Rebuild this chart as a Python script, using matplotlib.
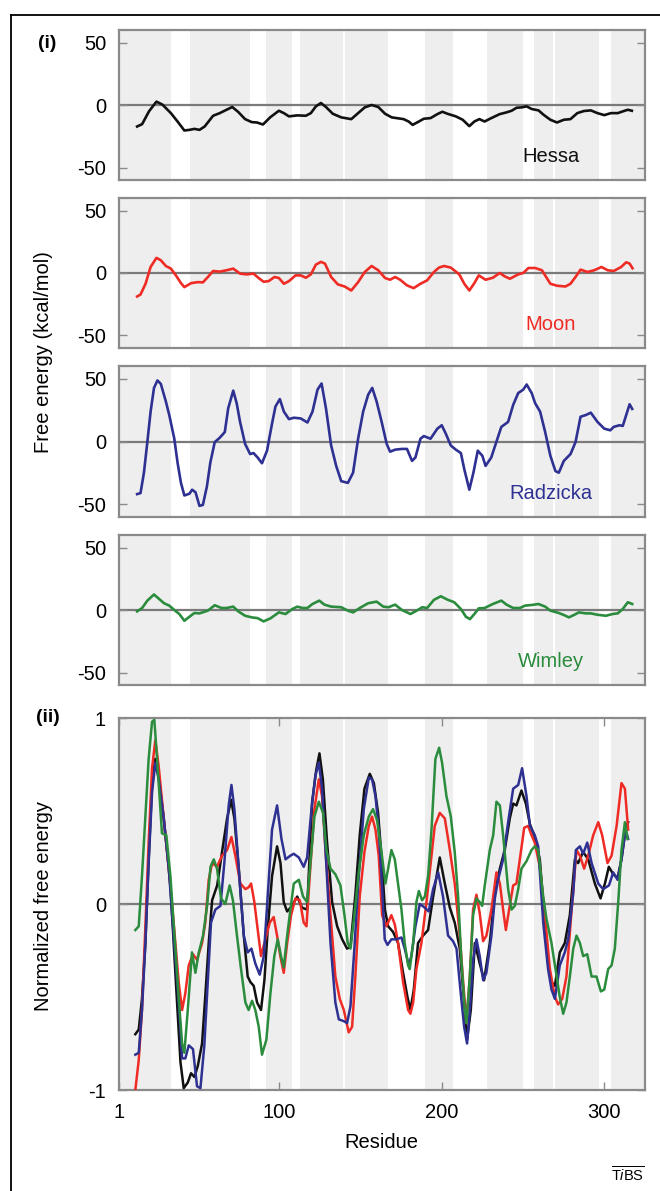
import numpy as np
import matplotlib
matplotlib.use("Agg")
import matplotlib.pyplot as plt
from matplotlib.lines import Line2D

plt.rcParams['font.family'] = ['Liberation Sans', 'DejaVu Sans']
plt.rcParams['axes.unicode_minus'] = False
plt.rcParams['mathtext.fontset'] = 'custom'
plt.rcParams['mathtext.rm'] = 'Liberation Sans'
plt.rcParams['mathtext.it'] = 'Liberation Sans:italic'

# shaded (membrane) segments, residue ranges
bands = [(1, 33), (45, 82), (92, 108), (113, 139.5), (140.5, 167), (190, 207),
         (228, 250), (257, 268.5), (270, 297), (304, 326)]

# ---- panel (i): free energy, kcal/mol ----
hessa_x = [12.4, 15.5, 19.7, 24.3, 28, 33.2, 37.3, 41.5, 44.6, 47.7, 50.8, 54, 59.2, 63.3, 67.5, 71,
           74.7, 78.9, 83, 86.2, 89.9, 94.5, 99.7, 102.8, 105.9, 111.1, 116.3, 119.4, 122.5, 125.6,
           128.7, 132.9, 138.1, 144.3, 148.5, 152.6, 156.8, 160.9, 165.1, 169.2, 176.5, 179.6, 182.1,
           184.8, 189, 193.1, 197.3, 200.4, 203.5, 208.7, 212.9, 217, 220.1, 223.2, 226.4, 230.5,
           235.7, 239.9, 243, 246.1, 249.2, 252.3, 255.4, 259.6, 262.7, 266.9, 271, 275.2, 279.3,
           283.5, 287.6, 291.8, 295.9, 300.1, 304.2, 308.4, 311.5, 314.6, 317.1]
hessa_y = [-17.2, -15.3, -5.1, 2.7, 0.3, -6.5, -13.2, -20.4, -19.9, -19.1, -19.9, -17.2, -8.6, -6.5,
           -3.8, -1.6, -5.6, -11.3, -13.7, -14, -15.6, -9.7, -4.6, -6.5, -9.1, -8.3, -8.6, -6.5, -1.1,
           1.6, -1.6, -7, -9.9, -11.3, -6.5, -1.9, 0, -1.6, -7, -9.9, -11.3, -13.2, -15.9, -14, -11,
           -10.5, -7.3, -5.4, -7, -9.1, -11.8, -16.9, -13.2, -11.3, -13.2, -10.5, -7.3, -5.9, -4.6,
           -2.2, -1.9, -1.1, -3.2, -4.3, -7.8, -11.8, -14, -11.8, -11.3, -6.5, -4.8, -4.3, -6.5, -8.1,
           -6.5, -6.5, -5.1, -3.8, -4.6]

moon_x = [12.4, 14.5, 17.6, 20.7, 24.3, 27, 30.1, 33.2, 36.3, 39.4, 41.5, 45.7, 49.8, 52.9, 56, 59.2,
          63.3, 67.5, 71.6, 75.8, 79.9, 84.1, 87.2, 90.3, 93.4, 97, 99.7, 102.8, 105.9, 110, 113.2,
          116.3, 119.4, 122.5, 125.6, 128.1, 131.9, 136, 140.2, 144.3, 148.5, 152.6, 156.8, 160.9,
          165.1, 168.2, 171.3, 174.4, 178.6, 182.7, 186.9, 191, 195.2, 198.3, 201.4, 205.6, 210.8,
          213.9, 217, 220.1, 222.8, 227, 231.5, 235.7, 238.8, 242, 247.1, 250.2, 253.4, 257.5, 261.7,
          266.9, 271, 276.2, 279.3, 282.4, 285.5, 289.7, 293.9, 298.4, 302.2, 305.9, 310.5, 313.6,
          315.7, 317.5]
moon_y = [-18.8, -17.2, -8.6, 4.8, 12.1, 10.2, 5.6, 3.5, -1.9, -8.1, -11.3, -8.1, -7.3, -7.5, -3.2,
          1.6, 1.1, 2.2, 3.5, -0.5, -1.1, -0.5, -4, -7, -6.5, -3.2, -4, -8.6, -6.5, -1.9, -1.9, -3.8,
          -1.1, 6.7, 8.9, 7.5, -3.2, -9.1, -10.8, -14, -7.3, 0.8, 5.6, 2.2, -4, -5.4, -3.2, -5.4,
          -9.9, -12.1, -8.6, -5.9, 0.8, 4.3, 5.6, 4.3, -1.1, -8.6, -14, -8.1, -1.9, -5.4, -3.8, 0,
          -2.7, -4.6, -1.1, 0, 4, 4, 2.2, -8.6, -10.2, -10.8, -8.6, -3.2, 2.7, 0.8, 2.2, 4.8, 2.2,
          1.6, 4.8, 8.6, 7.5, 3.8]

radz_x = [12.4, 14.5, 16.6, 18.7, 20.7, 22.8, 24.9, 27, 30.1, 32.2, 35.3, 37.3, 39.4, 41.5, 44.6,
          46.3, 48.4, 50.8, 52.9, 55.4, 57.5, 60.2, 63.3, 66.4, 68.5, 71.6, 73.7, 75.8, 78.9, 82,
          84.1, 86.6, 89.3, 92.4, 95.5, 97.6, 100.3, 102.8, 105.9, 109, 113.2, 117.3, 120.4, 123.5,
          126, 128.7, 131.9, 135, 138.1, 142.2, 145.4, 148.5, 151.6, 154.7, 157.2, 159.9, 163,
          166.1, 168.2, 171.3, 175.5, 178.6, 181.7, 183.8, 186.9, 189, 193.1, 197.3, 200, 202.5,
          205.6, 208.7, 211.8, 213.9, 217, 219.5, 222.2, 225, 227, 230.5, 233.6, 236.7, 240.9, 244,
          247.1, 250.2, 252.3, 255.4, 257.5, 260.6, 263.7, 266.9, 270, 272.1, 275.2, 279.3, 282.4,
          285.5, 288.7, 291.8, 295.9, 300.1, 303.8, 305.9, 309.4, 311.5, 313.6, 315.7, 317.3]
radz_y = [-41.8, -41, -24.8, -0.5, 23.7, 42.6, 48.5, 45.8, 31.8, 21, 2.2, -16.7, -32.9, -42.9, -41.5,
          -38.3, -40.4, -51.2, -50.4, -35.6, -16.7, -0.5, 3, 7.5, 26.4, 40.4, 30.5, 15.6, -1.9, -10,
          -9.2, -12.7, -17.3, -7.3, 14.3, 27.8, 33.7, 23.7, 17.8, 18.9, 18.3, 15.1, 23.7, 41.2, 46.1,
          26.4, -3.2, -19.4, -31.5, -32.9, -24.8, 2.2, 23.7, 37.2, 42.6, 31.8, 15.6, -1.9, -8.1,
          -6.5, -5.9, -5.9, -15.4, -12.7, 2.2, 4.3, 2.2, 10.2, 12.9, 6.2, -3.2, -6.5, -9.2, -22.1,
          -38.3, -24.8, -7.3, -11.3, -19.4, -12.7, -0.5, 11.6, 15.6, 29.1, 38.5, 41.2, 45.3, 38.5,
          30.5, 23.7, 7.5, -11.3, -23.5, -24.8, -15.4, -10, -0.5, 19.7, 21, 22.9, 15.6, 10.2, 8.9,
          11.6, 12.9, 12.4, 21, 29.6, 25.9]

wim_x = [12.4, 15.5, 18.7, 22.8, 25.9, 29, 32.2, 35.3, 38.4, 41.5, 44.6, 47.7, 50.8, 56, 60.2, 64.3,
         67.5, 71.6, 74.7, 78.9, 83, 86.6, 90.3, 94.5, 99.7, 103.8, 108, 111.1, 114.2, 117.3, 120.4,
         124.6, 127.7, 131.9, 138.1, 142.2, 145.4, 149.5, 154.7, 159.9, 164, 167.2, 171.3, 175.5,
         180.7, 183.8, 188, 191, 195.2, 199.4, 203.5, 207.7, 211.8, 214.9, 217.4, 220.1, 222.8,
         226.4, 231.5, 236.7, 239.9, 244, 248.2, 251.3, 255.4, 259.6, 263.7, 266.9, 272.1, 275.2,
         278.3, 281.4, 284.5, 288.7, 291.8, 295.9, 301.1, 305.3, 308.4, 311.5, 314.6, 317.3]
wim_y = [-1.1, 1.6, 7.5, 12.4, 8.9, 5.4, 3.5, 0, -3.2, -8.6, -5.4, -2.4, -2.7, -0.5, 3.8, 1.6, 1.6,
         2.7, -1.1, -4.6, -5.9, -6.5, -9.1, -6.7, -1.9, -3.2, 0.8, 2.7, 1.6, 1.6, 4.8, 7.5, 4.3, 2.7,
         2.2, -0.5, -1.9, 1.6, 5.4, 6.7, 2.7, 2.2, 4.3, 0, -3.2, -1.1, 2.2, 1.6, 8.1, 11, 8.3, 6.2,
         0.8, -5.4, -7.3, -3.2, 1.3, 1.6, 4.8, 7.5, 4.3, 1.6, 1.6, 3.5, 4, 4.8, 2.7, -0.5, -2.4, -4,
         -5.9, -4, -1.9, -2.7, -2.7, -3.8, -4.6, -3.2, -2.7, 0.8, 6.2, 4.8]

# ---- panel (ii): normalized free energy ----
n_hessa_x = [11.3, 13.4, 15.4, 17.5, 19.5, 21.6, 23.6, 25.7, 28.8, 30.8, 32.9, 34.9, 37, 39.1, 41.1,
             43.6, 45.6, 47.7, 49.8, 52.4, 54.5, 56.5, 58.6, 61.7, 64.7, 67.8, 70.3, 72.3, 75, 78.1,
             80.5, 82.2, 84.2, 86.3, 88.7, 90.8, 92.8, 95.5, 98.6, 100.7, 102.7, 104.8, 107.8, 111,
             114, 117.1, 120.2, 122.7, 124.7, 126.8, 129.4, 132.5, 135.6, 138.7, 141.7, 143.8, 146.9,
             149.5, 152.4, 155.7, 158.2, 160.8, 163.2, 165, 167, 170, 173.1, 176.2, 178.9, 180.7,
             182.8, 185.4, 188.5, 191.6, 194.7, 198.8, 201.9, 205, 208, 211.1, 213.8, 215.6, 217.9,
             220.4, 223.4, 226.1, 229.6, 232.7, 235.8, 238.8, 241.9, 244, 246, 249.1, 251.8, 254.3,
             257.3, 260.4, 263.1, 265.5, 267.6, 269.7, 272.7, 275.8, 278.9, 282, 284, 287.1, 290.2,
             294.3, 297.8, 300.5, 302.9, 305.6, 308.3, 310.7, 313.2, 314.8]
n_hessa_y = [-0.70, -0.675, -0.51, -0.21, 0.24, 0.64, 0.78, 0.69, 0.46, 0.29, 0.10, -0.21, -0.53,
             -0.85, -0.99, -0.96, -0.91, -0.93, -0.87, -0.75, -0.48, -0.21, 0.02, 0.10, 0.28, 0.46,
             0.56, 0.46, 0.19, -0.17, -0.39, -0.42, -0.44, -0.53, -0.57, -0.41, -0.14, 0.15, 0.31,
             0.22, 0.01, -0.04, -0.01, 0.04, -0.02, -0.03, 0.55, 0.72, 0.81, 0.67, 0.33, 0.01, -0.12,
             -0.19, -0.24, -0.23, 0.06, 0.37, 0.62, 0.70, 0.65, 0.49, 0.22, -0.03, -0.12, -0.15,
             -0.21, -0.37, -0.50, -0.57, -0.46, -0.21, -0.17, -0.14, 0.04, 0.25, 0.11, -0.02, -0.10,
             -0.24, -0.53, -0.73, -0.57, -0.21, -0.32, -0.41, -0.21, 0.06, 0.19, 0.29, 0.46, 0.54,
             0.53, 0.61, 0.54, 0.43, 0.36, 0.24, -0.06, -0.32, -0.42, -0.44, -0.26, -0.21, -0.06,
             0.24, 0.22, 0.28, 0.24, 0.11, 0.03, 0.11, 0.20, 0.16, 0.14, 0.24, 0.40, 0.44]

n_moon_x = [11.3, 13.4, 15.4, 17.5, 19.5, 21.6, 23.6, 25.7, 28.8, 31.9, 34.9, 38, 40.1, 42.1, 44.2,
            46.8, 49.3, 52.4, 54.4, 56.5, 58.6, 61.6, 64.7, 67.8, 70.5, 72.9, 76, 79.1, 81.1, 82.6,
            84.6, 86.7, 88.7, 91.4, 94.1, 96.5, 98.6, 100.6, 102.7, 104.8, 107.2, 109.9, 112.6, 115,
            116.7, 118.7, 121.6, 124.3, 126.3, 128.8, 131.5, 134.5, 137.2, 139.7, 142.7, 144.8,
            146.8, 149.5, 152.4, 155.1, 157.1, 159.2, 161.2, 163.3, 165.9, 169, 171.1, 173.1, 176.2,
            179.3, 180.7, 182.4, 184.4, 187.5, 190.6, 193.7, 195.7, 198.8, 201.9, 205, 208, 211.1,
            213.2, 215.2, 217.3, 219.3, 221.4, 223.4, 225.5, 227.5, 230.6, 233.7, 235.8, 237.8,
            239.5, 241.5, 244, 246, 248.1, 250.8, 253.2, 255.3, 257.3, 260.4, 263.5, 266.6, 269.7,
            271.7, 274.2, 276.8, 280, 283, 285.1, 287.7, 290.2, 293.3, 296.4, 298.8, 302.1, 304.6,
            307.7, 310.7, 312.8, 314.8]
n_moon_y = [-1.0, -0.84, -0.57, -0.12, 0.33, 0.73, 0.88, 0.74, 0.46, 0.19, -0.10, -0.42, -0.57,
            -0.48, -0.33, -0.27, -0.30, -0.21, -0.10, 0.13, 0.22, 0.20, 0.26, 0.29, 0.36, 0.26,
            0.11, 0.08, 0.09, 0.11, 0.01, -0.14, -0.28, -0.19, -0.10, -0.07, -0.17, -0.28, -0.37,
            -0.21, -0.06, 0.03, 0.02, -0.10, -0.12, 0.15, 0.51, 0.67, 0.58, 0.24, -0.06, -0.39,
            -0.51, -0.57, -0.69, -0.66, -0.39, 0.04, 0.28, 0.42, 0.47, 0.40, 0.26, -0.06, -0.12,
            -0.06, -0.11, -0.21, -0.42, -0.57, -0.59, -0.53, -0.35, -0.21, 0.01, 0.26, 0.42, 0.49,
            0.46, 0.29, 0.11, -0.17, -0.42, -0.64, -0.39, -0.03, 0.05, -0.05, -0.20, -0.17, -0.03,
            0.17, 0.11, -0.03, -0.14, -0.03, 0.10, 0.11, 0.24, 0.41, 0.42, 0.37, 0.33, 0.20, -0.06,
            -0.35, -0.50, -0.54, -0.51, -0.39, -0.03, 0.29, 0.26, 0.19, 0.26, 0.37, 0.44, 0.37,
            0.22, 0.26, 0.42, 0.65, 0.62, 0.40]

n_radz_x = [11.3, 13.4, 15.4, 17.5, 19.5, 21.6, 23.6, 25.7, 28.8, 31.9, 34.9, 38, 40.1, 42.1, 44.2,
            46.8, 49.3, 51.4, 53.8, 55.9, 57.9, 60.6, 63.7, 66.1, 68.8, 70.5, 72.3, 75, 78.1, 80.5,
            82.8, 85.2, 87.9, 90.4, 92.8, 95.5, 98.6, 101.3, 103.8, 106.8, 108.9, 112, 115, 117.1,
            119.8, 122.2, 124.3, 126.3, 129, 131.5, 134.5, 136.6, 139.7, 141.7, 143.8, 146.2, 148.9,
            152, 155.1, 157.1, 159.2, 161.2, 163.5, 164.9, 166.6, 169, 172.1, 175.2, 177.2, 179.7,
            181.3, 183.8, 186.5, 189.6, 192, 194.7, 197.8, 200.8, 203.9, 207, 209.1, 211.7, 213.8,
            215.6, 217.3, 219.3, 221.4, 223.4, 225.5, 227.5, 230.6, 232.7, 234.7, 237.8, 240.9, 244,
            247.1, 249.5, 252.2, 254.3, 257.3, 259.4, 262.5, 265.5, 267.6, 269.7, 272.7, 275.8,
            277.9, 281, 282.6, 285.1, 287.1, 289.6, 292.3, 296.4, 299.4, 303, 305.6, 308.3, 310.7,
            313.2, 314.8]
n_radz_y = [-0.81, -0.80, -0.57, -0.21, 0.22, 0.60, 0.76, 0.67, 0.46, 0.19, -0.17, -0.53, -0.83,
            -0.83, -0.76, -0.78, -0.98, -0.99, -0.76, -0.42, -0.10, -0.03, -0.01, 0.22, 0.53, 0.64,
            0.51, 0.19, -0.17, -0.26, -0.24, -0.32, -0.38, -0.28, 0.04, 0.40, 0.53, 0.35, 0.24,
            0.26, 0.27, 0.25, 0.20, 0.25, 0.51, 0.69, 0.76, 0.62, 0.20, -0.21, -0.53, -0.62, -0.63,
            -0.64, -0.55, -0.24, 0.15, 0.51, 0.68, 0.67, 0.58, 0.40, 0.05, -0.19, -0.22, -0.19,
            -0.19, -0.18, -0.24, -0.33, -0.28, -0.12, 0.00, -0.02, -0.04, 0.08, 0.17, 0.04, -0.17,
            -0.20, -0.24, -0.48, -0.66, -0.75, -0.57, -0.30, -0.19, -0.28, -0.41, -0.37, -0.17, 0.03,
            0.13, 0.24, 0.44, 0.62, 0.64, 0.73, 0.58, 0.42, 0.37, 0.31, -0.10, -0.35, -0.46, -0.51,
            -0.33, -0.26, -0.19, 0.06, 0.29, 0.31, 0.27, 0.33, 0.22, 0.11, 0.08, 0.10, 0.17, 0.13,
            0.24, 0.40, 0.35]

n_wim_x = [11.3, 13.4, 15.4, 17.5, 19.5, 21.6, 23, 24.7, 27.7, 30.4, 32.9, 35.4, 38, 40.1, 41.5,
           43.6, 46.2, 48.3, 50.4, 53, 55.5, 57.6, 59.6, 61.6, 64.1, 66.7, 69.4, 71.4, 73.9, 76.4,
           79.1, 81.1, 83.2, 85.2, 87.3, 89.3, 92, 94.5, 96.9, 99, 101, 102.7, 104.8, 106.8, 108.9,
           112, 114.6, 117.1, 119.1, 121.6, 124.3, 126.9, 129, 131.5, 134.5, 137.6, 140.1, 142.1,
           143.8, 146.2, 148.9, 152, 155.1, 157.7, 160.2, 162.6, 165.3, 167, 169, 171.1, 173.1,
           175.2, 177.2, 179.3, 180.3, 182.4, 184.4, 185.9, 187.9, 189.6, 191.6, 193.7, 196.1,
           198.4, 200.2, 202.9, 205.6, 208, 210.1, 212.1, 214.2, 215.2, 217.3, 219.3, 221.4, 223.4,
           224.9, 226.5, 229.6, 231.7, 233.7, 235.8, 237.8, 240.9, 243, 245, 247.1, 249.1, 252.2,
           255.3, 257.3, 259.4, 262.5, 264.5, 267.6, 269.7, 272.7, 274.8, 276.8, 278.9, 281, 283,
           285.1, 287.1, 289.6, 292.3, 295.3, 298, 300.1, 302.5, 304.6, 306.6, 308.7, 310.7, 312.8,
           314.4]
n_wim_y = [-0.14, -0.12, 0.15, 0.47, 0.78, 0.98, 0.99, 0.78, 0.38, 0.37, 0.15, -0.17, -0.50, -0.75,
           -0.80, -0.57, -0.26, -0.37, -0.26, -0.17, -0.01, 0.20, 0.24, 0.19, 0.03, 0.00, 0.10, 0.02,
           -0.17, -0.35, -0.53, -0.57, -0.52, -0.57, -0.66, -0.81, -0.73, -0.48, -0.28, -0.19,
           -0.28, -0.34, -0.17, -0.03, 0.11, 0.13, 0.04, 0.01, 0.22, 0.47, 0.55, 0.49, 0.29, 0.19,
           0.16, 0.10, -0.06, -0.21, -0.24, -0.06, 0.17, 0.37, 0.47, 0.51, 0.45, 0.30, 0.11, 0.19,
           0.29, 0.24, 0.11, -0.03, -0.21, -0.33, -0.35, -0.21, 0.01, 0.07, 0.02, 0.04, 0.15, 0.40,
           0.78, 0.84, 0.76, 0.58, 0.47, 0.28, 0.04, -0.30, -0.57, -0.64, -0.39, -0.06, 0.03, 0.01,
           -0.01, 0.10, 0.29, 0.37, 0.55, 0.53, 0.37, 0.08, -0.03, -0.01, 0.08, 0.19, 0.23, 0.29,
           0.31, 0.29, 0.04, -0.08, -0.21, -0.33, -0.50, -0.59, -0.53, -0.39, -0.24, -0.17, -0.21,
           -0.28, -0.27, -0.39, -0.39, -0.47, -0.46, -0.35, -0.33, -0.24, 0.01, 0.29, 0.44, 0.35]

names = ['Hessa', 'Moon', 'Radzicka', 'Wimley']
colors = ['#111111', '#ee2b24', '#2e3192', '#2a8c3c']
raw = [(hessa_x, hessa_y), (moon_x, moon_y), (radz_x, radz_y), (wim_x, wim_y)]
norm = [(n_hessa_x, n_hessa_y), (n_moon_x, n_moon_y), (n_radz_x, n_radz_y), (n_wim_x, n_wim_y)]

spine_c = '#8a8a8a'
band_c = '#eeeeee'
W, H = 660, 1191
fig = plt.figure(figsize=(W / 100, H / 100), dpi=100)


def px_rect(top, bottom):
    left, right = 118.6, 644.7
    return [left / W, 1 - bottom / H, (right - left) / W, (bottom - top) / H]


def style_axes(ax, xlim, ylim):
    for a, b in bands:
        ax.axvspan(a, b, color=band_c, lw=0, zorder=0)
    ax.axhline(0, color='#7a7a7a', lw=1.6, zorder=1)
    ax.set_xlim(*xlim)
    ax.set_ylim(*ylim)
    for s in ax.spines.values():
        s.set_color(spine_c)
        s.set_linewidth(1.6)
    ax.tick_params(direction='in', color=spine_c, width=1.0, length=6, labelsize=14.5,
                   left=True, right=True, top=True, bottom=True, pad=9)


panel_px = [(30, 180), (198, 348), (366, 517), (535, 685)]
for i, (top, bot) in enumerate(panel_px):
    ax = fig.add_axes(px_rect(top, bot))
    style_axes(ax, (1, 325), (-60, 60))
    xs, ys = raw[i]
    ax.plot(xs, ys, color=colors[i], lw=1.9, zorder=3, solid_joinstyle='round')
    ax.set_yticks([-50, 0, 50])
    ax.set_xticks([])
    ax.text(0.822, 0.155, names[i], transform=ax.transAxes, color=colors[i],
            fontsize=14.5, ha='center', va='center')

ax = fig.add_axes(px_rect(718, 1090))
style_axes(ax, (1, 325), (-1, 1))
for i in range(4):
    xs, ys = norm[i]
    ax.plot(xs, ys, color=colors[i], lw=1.8, zorder=3, solid_joinstyle='round')
ax.set_yticks([-1, 0, 1])
ax.set_yticklabels(['-1', '0', '1'])
ax.set_xticks([1, 100, 200, 300])
ax.tick_params(axis='x', pad=9)
ax.set_xlabel('Residue', fontsize=14.5, labelpad=8)

fig.text(44 / W, 1 - 352 / H, 'Free energy (kcal/mol)', rotation=90, fontsize=14.5,
         ha='center', va='center')
fig.text(44 / W, 1 - 906 / H, 'Normalized free energy', rotation=90, fontsize=14.5,
         ha='center', va='center')
fig.text(47 / W, 1 - 43 / H, '(i)', fontsize=14, fontweight='bold', ha='center', va='center')
fig.text(48 / W, 1 - 718 / H, '(ii)', fontsize=14, fontweight='bold', ha='center', va='center')
fig.text(645 / W, 1 - 1175 / H, r'$\overline{\mathrm{T}\mathit{i}\mathrm{BS}}$', fontsize=10.5,
         ha='right', va='center')

# outer frame (left and top edges)
fig.add_artist(Line2D([11 / W, 11 / W], [0, 1 - 15 / H], color='black', lw=1.3,
                      transform=fig.transFigure))
fig.add_artist(Line2D([11 / W, 1], [1 - 15 / H, 1 - 15 / H], color='black', lw=1.3,
                      transform=fig.transFigure))

fig.savefig('out.png', dpi=100)
